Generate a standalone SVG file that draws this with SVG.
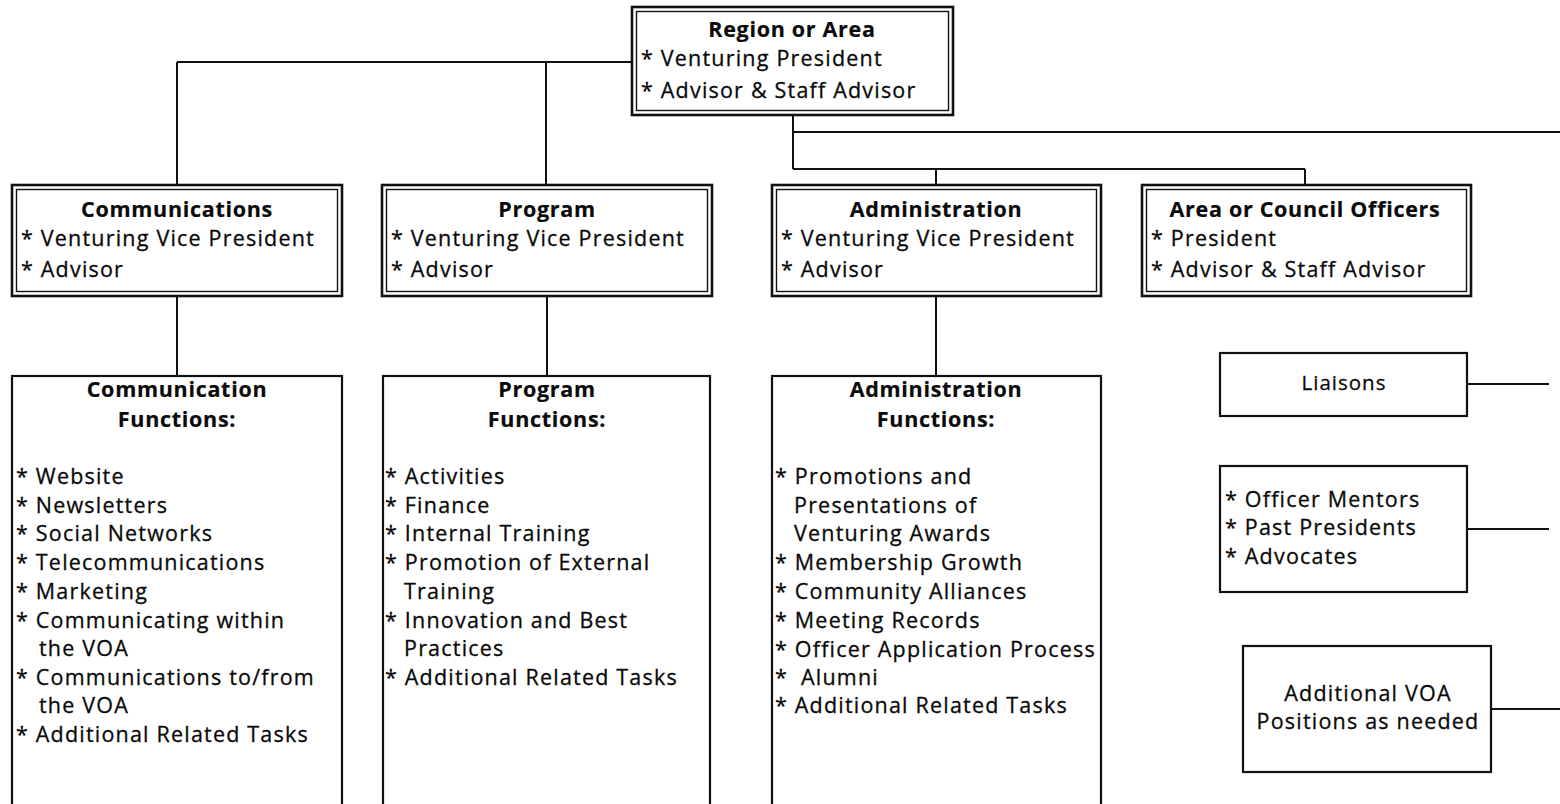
<svg xmlns="http://www.w3.org/2000/svg" width="1560" height="804" viewBox="0 0 1560 804">
<style>
text{font-family:"Open Sans","Liberation Sans",sans-serif;font-size:21.5px;letter-spacing:1.2px;fill:#0a0a0a;stroke:#0a0a0a;stroke-width:0.3}
.b{font-weight:bold;letter-spacing:0.7px;stroke-width:0.2}
.c{text-anchor:middle}
.o{fill:#fff;stroke:#111;stroke-width:2.6}
.i{fill:none;stroke:#111;stroke-width:1.4}
.s{fill:#fff;stroke:#111;stroke-width:2.2}
.ln{fill:none;stroke:#111;stroke-width:2}
</style>
<rect width="1560" height="804" fill="#fff"/>
<g id="connectors">
<path class="ln" d="M177,62H632M177,62V185M546,62V185"/>
<path class="ln" d="M793,115V169M793,132H1560M793,169H1305M936,169V185M1305,169V185"/>
<path class="ln" d="M177,296V376M547,296V376M936,296V376"/>
<path class="ln" d="M1467,384H1549M1467,529H1549M1491,709H1560"/>
</g>
<g id="region">
<rect class="o" x="632" y="7" width="321" height="108"/>
<rect class="i" x="636.5" y="11.5" width="312" height="99"/>
<text class="b c" x="792" y="37">Region or Area</text>
<text x="641" y="66">* Venturing President</text>
<text x="641" y="98">* Advisor &amp; Staff Advisor</text>
</g>
<g id="communications">
<rect class="o" x="12" y="185" width="330" height="111"/>
<rect class="i" x="16.5" y="189.5" width="321" height="102"/>
<text class="b c" x="177" y="217">Communications</text>
<text x="21" y="246">* Venturing Vice President</text>
<text x="21" y="277">* Advisor</text>
</g>
<g id="program">
<rect class="o" x="382" y="185" width="330" height="111"/>
<rect class="i" x="386.5" y="189.5" width="321" height="102"/>
<text class="b c" x="547" y="217">Program</text>
<text x="391" y="246">* Venturing Vice President</text>
<text x="391" y="277">* Advisor</text>
</g>
<g id="administration">
<rect class="o" x="772" y="185" width="329" height="111"/>
<rect class="i" x="776.5" y="189.5" width="320" height="102"/>
<text class="b c" x="936" y="217">Administration</text>
<text x="781" y="246">* Venturing Vice President</text>
<text x="781" y="277">* Advisor</text>
</g>
<g id="area-officers">
<rect class="o" x="1142" y="185" width="329" height="111"/>
<rect class="i" x="1146.5" y="189.5" width="320" height="102"/>
<text class="b c" x="1305" y="217">Area or Council Officers</text>
<text x="1151" y="246">* President</text>
<text x="1151" y="277">* Advisor &amp; Staff Advisor</text>
</g>
<g id="communication-functions">
<rect class="s" x="12" y="376" width="330" height="440"/>
<text class="b c" x="177" y="397">Communication</text>
<text class="b c" x="177" y="427">Functions:</text>
<text x="16" y="484">* Website</text>
<text x="16" y="513">* Newsletters</text>
<text x="16" y="541">* Social Networks</text>
<text x="16" y="570">* Telecommunications</text>
<text x="16" y="599">* Marketing</text>
<text x="16" y="628">* Communicating within</text>
<text x="39" y="656">the VOA</text>
<text x="16" y="685">* Communications to/from</text>
<text x="39" y="713">the VOA</text>
<text x="16" y="742">* Additional Related Tasks</text>
</g>
<g id="program-functions">
<rect class="s" x="383" y="376" width="327" height="440"/>
<text class="b c" x="547" y="397">Program</text>
<text class="b c" x="547" y="427">Functions:</text>
<text x="385" y="484">* Activities</text>
<text x="385" y="513">* Finance</text>
<text x="385" y="541">* Internal Training</text>
<text x="385" y="570">* Promotion of External</text>
<text x="404" y="599">Training</text>
<text x="385" y="628">* Innovation and Best</text>
<text x="404" y="656">Practices</text>
<text x="385" y="685">* Additional Related Tasks</text>
</g>
<g id="administration-functions">
<rect class="s" x="772" y="376" width="329" height="440"/>
<text class="b c" x="936" y="397">Administration</text>
<text class="b c" x="936" y="427">Functions:</text>
<text x="775" y="484">* Promotions and</text>
<text x="794" y="513">Presentations of</text>
<text x="794" y="541">Venturing Awards</text>
<text x="775" y="570">* Membership Growth</text>
<text x="775" y="599">* Community Alliances</text>
<text x="775" y="628">* Meeting Records</text>
<text x="775" y="657">* Officer Application Process</text>
<text x="775" y="685">*</text>
<text x="801" y="685">Alumni</text>
<text x="775" y="713">* Additional Related Tasks</text>
</g>
<g id="liaisons">
<rect class="s" x="1220" y="353" width="247" height="63"/>
<text class="c" x="1344" y="390" style="font-size:20.5px;letter-spacing:1px">Liaisons</text>
</g>
<g id="mentors">
<rect class="s" x="1220" y="466" width="247" height="126"/>
<text x="1225" y="507">* Officer Mentors</text>
<text x="1225" y="535">* Past Presidents</text>
<text x="1225" y="564">* Advocates</text>
</g>
<g id="additional-positions">
<rect class="s" x="1243" y="646" width="248" height="126"/>
<text class="c" x="1368" y="701">Additional VOA</text>
<text class="c" x="1368" y="729">Positions as needed</text>
</g>
</svg>
